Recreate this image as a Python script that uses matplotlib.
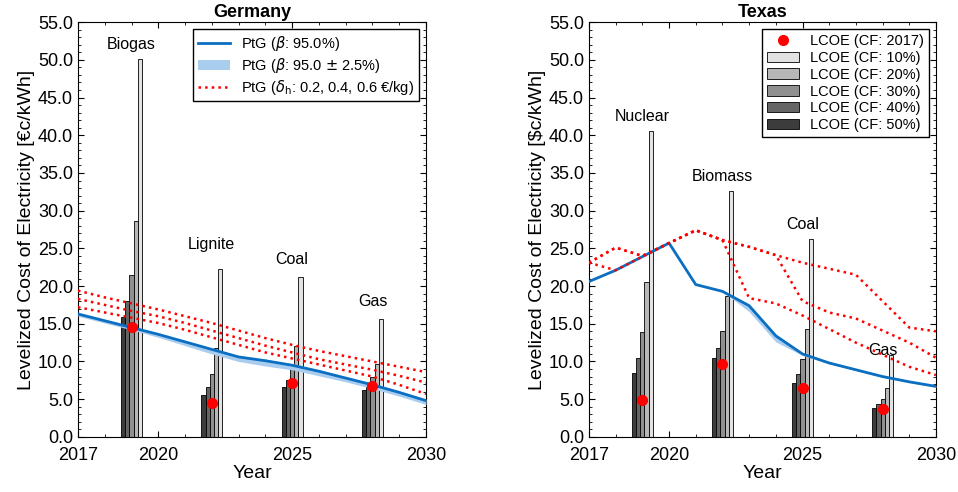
import numpy as np
import matplotlib
matplotlib.use('Agg')
import matplotlib.pyplot as plt
from matplotlib.ticker import MultipleLocator, FormatStrFormatter

plt.rcParams['font.family'] = ['Liberation Sans', 'DejaVu Sans']
plt.rcParams['mathtext.fontset'] = 'dejavusans'

# ── data ─────────────────────────────────────────────
years = np.arange(2017, 2031)
cf_labels = ['50%', '40%', '30%', '20%', '10%']
bar_colors = ['#3c3c3c', '#656565', '#909090', '#b8b8b8', '#e2e2e2']
group_years = [2019, 2022, 2025, 2028]

de_tech = ['Biogas', 'Lignite', 'Coal', 'Gas']
de_lcoe = [[15.9, 18.0, 21.5, 28.6, 50.1],
           [5.5, 6.6, 8.3, 11.8, 22.3],
           [6.6, 7.5, 9.0, 12.0, 21.2],
           [6.2, 6.8, 7.9, 9.7, 15.6]]
de_dot = [14.6, 4.5, 7.2, 6.7]
de_label_y = [52.0, 25.5, 23.5, 18.0]
de_ptg = [16.3, 15.4, 14.5, 13.6, 12.6, 11.6, 10.6, 10.1, 9.5, 8.7, 7.8, 6.9, 5.9, 4.8]
de_lo = [16.0, 15.1, 14.2, 13.2, 12.1, 11.0, 10.0, 9.4, 8.9, 8.1, 7.3, 6.4, 5.4, 4.3]
de_hi = [16.4, 15.5, 14.6, 13.7, 12.7, 11.7, 10.8, 10.3, 9.7, 8.9, 8.0, 7.1, 6.1, 5.0]
de_h2 = [[19.4, 18.5, 17.7, 16.9, 16.0, 15.1, 14.1, 13.1, 12.2, 11.4, 10.7, 10.0, 9.3, 8.6],
         [18.3, 17.5, 16.7, 16.0, 15.1, 14.1, 13.1, 12.1, 11.2, 10.3, 9.6, 8.9, 8.1, 7.2],
         [17.2, 16.5, 15.8, 15.1, 14.2, 13.2, 12.2, 11.2, 10.4, 9.6, 8.8, 8.0, 6.9, 5.7]]

tx_tech = ['Nuclear', 'Biomass', 'Coal', 'Gas']
tx_lcoe = [[8.5, 10.5, 13.9, 20.6, 40.6],
           [10.4, 11.8, 14.1, 18.7, 32.6],
           [7.1, 8.3, 10.3, 14.3, 26.2],
           [3.8, 4.3, 5.0, 6.5, 10.8]]
tx_dot = [4.9, 9.7, 6.5, 3.7]
tx_label_y = [42.5, 34.5, 28.2, 11.5]
tx_ptg = [20.6, 22.1, 23.9, 25.7, 20.2, 19.3, 17.4, 13.4, 11.0, 9.8, 8.9, 8.0, 7.3, 6.7]
tx_lo = [20.6, 22.1, 23.9, 25.7, 20.2, 19.3, 16.6, 12.6, 10.8, 9.7, 8.8, 7.9, 7.2, 6.6]
tx_hi = [20.6, 22.1, 23.9, 25.7, 20.2, 19.3, 17.5, 13.6, 11.1, 9.9, 9.0, 8.1, 7.4, 6.8]
tx_h2 = [[23.1, 25.1, 24.0, 25.7, 27.4, 26.1, 25.2, 24.1, 23.1, 22.3, 21.5, 18.0, 14.5, 14.0],
         [23.1, 25.1, 24.0, 25.7, 27.4, 26.1, 25.2, 24.1, 18.0, 16.5, 15.7, 14.1, 12.5, 10.5],
         [23.1, 22.1, 23.9, 25.7, 27.4, 26.1, 18.4, 17.7, 16.1, 14.3, 12.5, 10.9, 9.3, 8.2]]

bw = 0.156
fig = plt.figure(figsize=(9.58, 4.92), dpi=100)
ax1 = fig.add_axes([0.0814, 0.112, 0.3633, 0.843])
ax2 = fig.add_axes([0.6148, 0.112, 0.3622, 0.843])


def draw(ax, tech, lcoe, dot, label_y, ptg, lo, hi, h2, title, unit):
    h_ptg, = ax.plot(years, ptg, color='#0a6fc2', lw=2, zorder=4)
    h_band = ax.fill_between(years, lo, hi, color='#a9cdef', lw=0, zorder=3)
    for k, line in enumerate(h2):
        h_red, = ax.plot(years, line, color='red', ls=':', lw=1.8, zorder=5)
    bars = []
    for g, gy in enumerate(group_years):
        for j in range(5):
            x = gy + (j - 2) * bw
            b = ax.bar(x, lcoe[g][j], width=bw, color=bar_colors[j],
                       edgecolor='black', lw=0.6, zorder=2)
            if g == 0:
                bars.append(b)
        h_dot, = ax.plot(gy, dot[g], 'o', color='red', ms=7, zorder=6)
        ax.text(gy, label_y[g], tech[g], ha='center', va='center', fontsize=11.5)
    ax.set_xlim(2017, 2030)
    ax.set_ylim(0, 55)
    ax.set_xticks([2017, 2020, 2025, 2030])
    ax.xaxis.set_minor_locator(MultipleLocator(1))
    ax.yaxis.set_major_locator(MultipleLocator(5))
    ax.yaxis.set_minor_locator(MultipleLocator(1))
    ax.yaxis.set_major_formatter(FormatStrFormatter('%.1f'))
    ax.tick_params(which='both', direction='in', top=True, right=True, labelsize=13)
    ax.tick_params(which='major', length=4)
    ax.tick_params(which='minor', length=2)
    ax.tick_params(axis='x', pad=7)
    ax.set_xlabel('Year', fontsize=14, labelpad=1)
    ax.set_ylabel('Levelized Cost of Electricity [%s]' % unit, fontsize=14, labelpad=2)
    ax.set_title(title, fontsize=13, fontweight='bold', pad=4)
    return h_ptg, h_band, h_red, h_dot, bars


r = draw(ax1, de_tech, de_lcoe, de_dot, de_label_y, de_ptg, de_lo, de_hi, de_h2,
         'Germany', '€c/kWh')
ax1.legend([r[0], r[1], r[2]],
           [r'PtG ($\beta$: 95.0%)', r'PtG ($\beta$: 95.0 $\pm$ 2.5%)',
            r'PtG ($\delta_{\mathrm{h}}$: 0.2, 0.4, 0.6 €/kg)'],
           loc='upper right', fontsize=10.5, fancybox=False, edgecolor='black',
           framealpha=1, borderpad=0.3, labelspacing=0.2, handlelength=2.2)

r = draw(ax2, tx_tech, tx_lcoe, tx_dot, tx_label_y, tx_ptg, tx_lo, tx_hi, tx_h2,
         'Texas', '$c/kWh')
bars = r[4]
ax2.legend([r[3]] + bars[::-1],
           ['LCOE (CF: 2017)'] + ['LCOE (CF: %s)' % c for c in cf_labels[::-1]],
           loc='upper right', fontsize=10.5, fancybox=False, edgecolor='black',
           framealpha=1, borderpad=0.3, labelspacing=0.2, handlelength=2.2)

fig.savefig('out.png', dpi=100)
